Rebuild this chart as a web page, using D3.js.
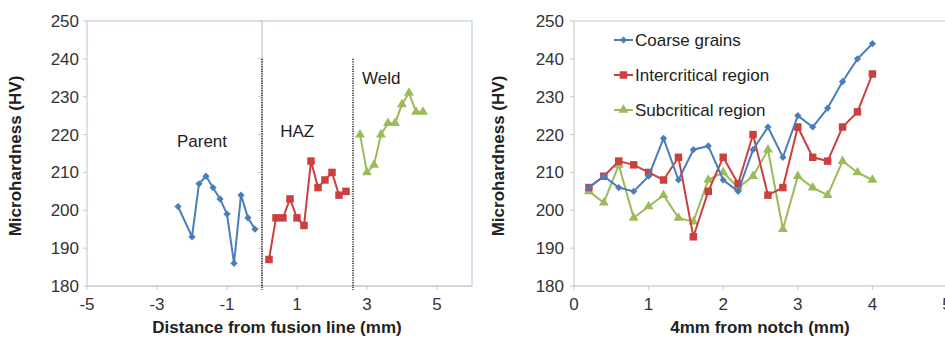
<!DOCTYPE html>
<html>
<head>
<meta charset="utf-8">
<script src="https://cdn.jsdelivr.net/npm/d3@7"></script>
<style>
  body { margin: 0; background: #fff; }
  svg { display: block; font-family: Arial, "Liberation Sans", sans-serif; }
</style>
</head>
<body>
<svg id="chart" width="945" height="339"></svg>
<script>
// left panel: distance from fusion line
var parentX = [-2.4, -2.0, -1.8, -1.6, -1.4, -1.2, -1.0, -0.8, -0.6, -0.4, -0.2];
var parentY = [201, 193, 207, 209, 206, 203, 199, 186, 204, 198, 195];
var hazX = [0.2, 0.4, 0.6, 0.8, 1.0, 1.2, 1.4, 1.6, 1.8, 2.0, 2.2, 2.4];
var hazY = [187, 198, 198, 203, 198, 196, 213, 206, 208, 210, 204, 205];
var weldX = [2.8, 3.0, 3.2, 3.4, 3.6, 3.8, 4.0, 4.2, 4.4, 4.6];
var weldY = [220, 210, 212, 220, 223, 223, 228, 231, 226, 226];
var zoneLines = [0, 2.6];          // dotted zone borders (mm)
var zoneTop = 240;                 // HV where they stop
var zoneLabels = [
    { text: "Parent", x: -2.43, y: 216.7 },
    { text: "HAZ", x: 0.52, y: 219.4 },
    { text: "Weld", x: 2.86, y: 233.4 }
];
var leftXTicks = [-5, -3, -1, 1, 3, 5];

// right panel: 4mm from notch
var notchX = [0.2, 0.4, 0.6, 0.8, 1.0, 1.2, 1.4, 1.6, 1.8, 2.0, 2.2, 2.4, 2.6, 2.8, 3.0, 3.2, 3.4, 3.6, 3.8, 4.0];
var coarseY = [206, 209, 206, 205, 209, 219, 208, 216, 217, 208, 205, 216, 222, 214, 225, 222, 227, 234, 240, 244];
var interY = [206, 209, 213, 212, 210, 208, 214, 193, 205, 214, 207, 220, 204, 206, 222, 214, 213, 222, 226, 236];
var subY = [205, 202, 212, 198, 201, 204, 198, 197, 208, 210, 206, 209, 216, 195, 209, 206, 204, 213, 210, 208];
var seriesNames = ["Coarse grains", "Intercritical region", "Subcritical region"];
var rightXTicks = [0, 1, 2, 3, 4, 5];

var yTicks = [180, 190, 200, 210, 220, 230, 240, 250];

var blue = "#4a7ebb", red = "#cc3f3f", green = "#9bbb59";

var svg = d3.select("#chart");

// marker shapes, excel style
function marker(g, kind, color, x, y) {
    if (kind == "diamond") {
        g.append("path")
            .attr("d", d3.symbol().type(d3.symbolSquare).size(26)())
            .attr("transform", "translate(" + x + "," + y + ") rotate(45)")
            .attr("fill", color);
    } else if (kind == "square") {
        g.append("path")
            .attr("d", d3.symbol().type(d3.symbolSquare).size(56)())
            .attr("transform", "translate(" + x + "," + y + ")")
            .attr("fill", color);
    } else {
        g.append("path")
            .attr("d", d3.symbol().type(d3.symbolTriangle).size(42)())
            .attr("transform", "translate(" + x + "," + y + ")")
            .attr("fill", color);
    }
}

function drawSeries(g, xs, ys, x, y, color, kind) {
    var pts = xs.map(function (d, i) { return [d, ys[i]]; });
    g.append("path")
        .attr("d", d3.line().x(function (d) { return x(d[0]); }).y(function (d) { return y(d[1]); })(pts))
        .attr("fill", "none")
        .attr("stroke", color)
        .attr("stroke-width", 2);
    pts.forEach(function (d) { marker(g, kind, color, x(d[0]), y(d[1])); });
}

function yAxisLabels(x0, y, tickX) {
    yTicks.forEach(function (t) {
        svg.append("text")
            .attr("x", x0)
            .attr("y", y(t) + 6)
            .attr("text-anchor", "end")
            .attr("font-size", 17)
            .attr("fill", "#333")
            .text(String(t));
        svg.append("line")
            .attr("x1", tickX - 4).attr("x2", tickX)
            .attr("y1", y(t)).attr("y2", y(t))
            .attr("stroke", "#c8c8c8");
    });
}

function title(x, y, txt, rotate) {
    var t = svg.append("text")
        .attr("font-size", 17)
        .attr("font-weight", "bold")
        .attr("fill", "#222")
        .attr("text-anchor", "middle")
        .text(txt);
    if (rotate) t.attr("transform", "translate(" + x + "," + y + ") rotate(-90)");
    else t.attr("x", x).attr("y", y);
}

// ---------- left panel ----------
var xL = d3.scaleLinear().domain([-5, 6]).range([87, 472]);
var yL = d3.scaleLinear().domain([180, 250]).range([286, 21]);

svg.append("rect")
    .attr("x", xL(-5)).attr("y", yL(250))
    .attr("width", xL(6) - xL(-5)).attr("height", yL(180) - yL(250))
    .attr("fill", "none").attr("stroke", "#c6d9ee").attr("stroke-width", 1.5);
// vertical axis sits at 0
svg.append("line")
    .attr("x1", xL(0)).attr("x2", xL(0)).attr("y1", yL(250)).attr("y2", yL(180))
    .attr("stroke", "#d0d0d0").attr("stroke-width", 1.5);
svg.append("line")
    .attr("x1", xL(-5)).attr("x2", xL(6)).attr("y1", yL(180)).attr("y2", yL(180))
    .attr("stroke", "#d0d0d0").attr("stroke-width", 1.5);
yTicks.forEach(function (t) {
    svg.append("line")
        .attr("x1", xL(0) - 4).attr("x2", xL(0))
        .attr("y1", yL(t)).attr("y2", yL(t))
        .attr("stroke", "#c8c8c8");
});
yAxisLabels(79, yL, xL(-5));

leftXTicks.forEach(function (t) {
    svg.append("line")
        .attr("x1", xL(t)).attr("x2", xL(t)).attr("y1", yL(180)).attr("y2", yL(180) + 4)
        .attr("stroke", "#c8c8c8");
    svg.append("text")
        .attr("x", xL(t)).attr("y", 310)
        .attr("text-anchor", "middle")
        .attr("font-size", 17)
        .attr("fill", "#333")
        .text(String(t));
});

zoneLines.forEach(function (z) {
    svg.append("line")
        .attr("x1", xL(z)).attr("x2", xL(z))
        .attr("y1", yL(zoneTop)).attr("y2", yL(180) + 4)
        .attr("stroke", "#333")
        .attr("stroke-width", 1.6)
        .attr("stroke-dasharray", "1.2,1.2");
});

var gL = svg.append("g");
drawSeries(gL, parentX, parentY, xL, yL, blue, "diamond");
drawSeries(gL, hazX, hazY, xL, yL, red, "square");
drawSeries(gL, weldX, weldY, xL, yL, green, "triangle");

zoneLabels.forEach(function (d) {
    svg.append("text")
        .attr("x", xL(d.x)).attr("y", yL(d.y))
        .attr("font-size", 17)
        .attr("fill", "#222")
        .text(d.text);
});

title(21, 156, "Microhardness (HV)", true);
title(277, 333, "Distance from fusion line (mm)", false);

// ---------- right panel ----------
var xR = d3.scaleLinear().domain([0, 5]).range([574, 947]);
var yR = d3.scaleLinear().domain([180, 250]).range([286, 21]);

svg.append("line")
    .attr("x1", xR(0)).attr("x2", 945).attr("y1", yR(250)).attr("y2", yR(250))
    .attr("stroke", "#d8d8d8").attr("stroke-width", 1.5);
svg.append("line")
    .attr("x1", xR(0)).attr("x2", xR(0)).attr("y1", yR(250)).attr("y2", yR(180))
    .attr("stroke", "#d8d8d8").attr("stroke-width", 1.5);
svg.append("line")
    .attr("x1", xR(0)).attr("x2", 945).attr("y1", yR(180)).attr("y2", yR(180))
    .attr("stroke", "#d0d0d0").attr("stroke-width", 1.5);
yAxisLabels(564, yR, xR(0));

rightXTicks.forEach(function (t) {
    svg.append("line")
        .attr("x1", xR(t)).attr("x2", xR(t)).attr("y1", yR(180)).attr("y2", yR(180) + 4)
        .attr("stroke", "#c8c8c8");
    svg.append("text")
        .attr("x", xR(t)).attr("y", 310)
        .attr("text-anchor", "middle")
        .attr("font-size", 17)
        .attr("fill", "#333")
        .text(String(t));
});

var gR = svg.append("g");
drawSeries(gR, notchX, subY, xR, yR, green, "triangle");
drawSeries(gR, notchX, interY, xR, yR, red, "square");
drawSeries(gR, notchX, coarseY, xR, yR, blue, "diamond");

// legend
var legColors = [blue, red, green];
var legKinds = ["diamond", "square", "triangle"];
seriesNames.forEach(function (n, i) {
    var ly = 40 + i * 35;
    svg.append("line")
        .attr("x1", 614).attr("x2", 633).attr("y1", ly).attr("y2", ly)
        .attr("stroke", legColors[i]).attr("stroke-width", 2);
    marker(svg, legKinds[i], legColors[i], 623.5, ly);
    svg.append("text")
        .attr("x", 635).attr("y", ly + 6)
        .attr("font-size", 17)
        .attr("fill", "#222")
        .text(n);
});

title(504, 156, "Microhardness (HV)", true);
title(760, 333, "4mm from notch (mm)", false);
</script>
</body>
</html>
